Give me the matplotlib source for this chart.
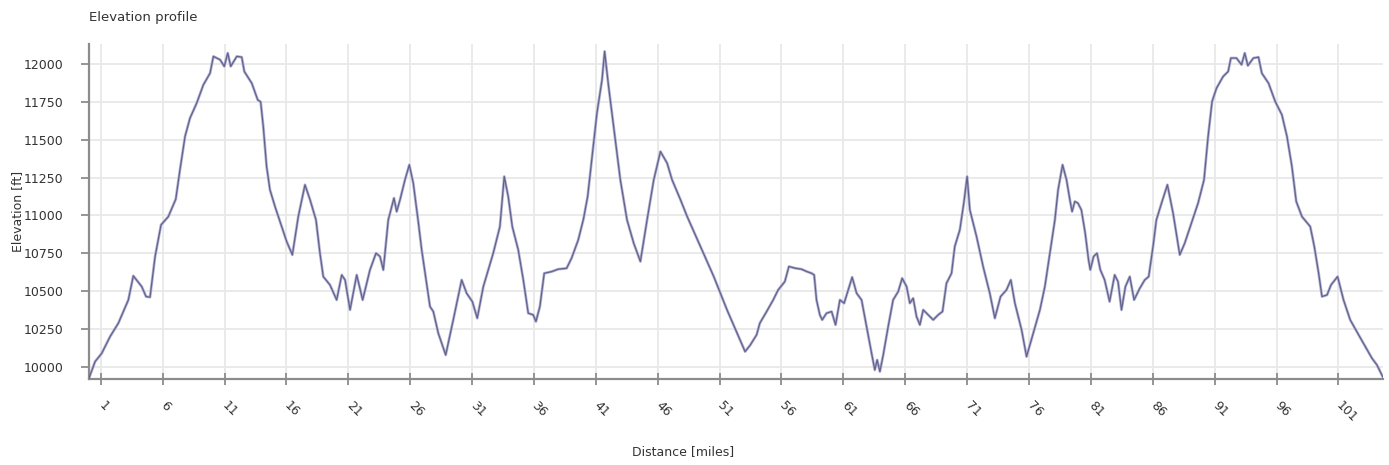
import matplotlib
matplotlib.use("Agg")
import matplotlib.pyplot as plt

# ---- data ----
distance_miles = [
    0.05, 0.54, 1.08, 1.75, 2.42, 3.23, 3.63, 4.31, 4.66, 4.98, 5.39, 5.87, 6.46, 7.06, 7.4,
    7.81, 8.21, 8.75, 9.29, 9.83, 10.1, 10.64, 10.98, 11.26, 11.5, 11.99, 12.39, 12.6, 13.2,
    13.68, 13.92, 14.13, 14.4, 14.67, 15.08, 15.62, 16.02, 16.48, 16.96, 17.5, 17.91, 18.39,
    18.71, 18.98, 19.52, 20.06, 20.47, 20.74, 21.14, 21.68, 22.16, 22.75, 23.24, 23.56, 23.83,
    24.23, 24.69, 24.91, 25.18, 25.58, 25.93, 26.25, 26.65, 26.93, 27.6, 27.87, 28.27, 28.87,
    29.48, 30.16, 30.56, 31.02, 31.42, 31.91, 32.71, 33.25, 33.6, 33.92, 34.25, 34.73, 35.14,
    35.54, 35.94, 36.16, 36.48, 36.83, 37.43, 37.96, 38.64, 39.04, 39.58, 40.0, 40.34, 40.55,
    41.09, 41.5, 41.71, 42.03, 42.44, 42.98, 43.52, 44.06, 44.6, 45.14, 45.68, 46.22, 46.76,
    47.16, 47.84, 48.38, 49.45, 50.53, 51.6, 52.41, 53.06, 53.48, 53.99, 54.25, 54.8, 55.33,
    55.73, 56.27, 56.6, 57.08, 57.62, 58.03, 58.43, 58.64, 58.83, 59.1, 59.29, 59.64, 60.05,
    60.37, 60.72, 61.06, 61.39, 61.71, 62.07, 62.47, 62.87, 63.28, 63.54, 63.73, 63.95, 64.22,
    64.62, 65.02, 65.43, 65.75, 66.11, 66.37, 66.64, 66.91, 67.18, 67.45, 67.85, 68.26, 68.66,
    69.01, 69.33, 69.74, 70.0, 70.41, 70.73, 71.0, 71.22, 71.76, 72.29, 72.83, 73.24, 73.7,
    74.18, 74.53, 74.86, 75.4, 75.8, 76.34, 76.88, 77.28, 77.69, 78.09, 78.35, 78.71, 79.03,
    79.3, 79.48, 79.7, 79.95, 80.23, 80.54, 80.81, 80.95, 81.22, 81.49, 81.76, 82.11, 82.51,
    82.92, 83.19, 83.47, 83.79, 84.14, 84.49, 84.95, 85.35, 85.67, 86.02, 86.29, 86.75, 87.18,
    87.64, 88.18, 88.58, 89.12, 89.66, 90.14, 90.47, 90.79, 91.15, 91.68, 92.09, 92.31, 92.76,
    93.17, 93.43, 93.68, 94.13, 94.54, 94.81, 95.35, 95.89, 96.43, 96.84, 97.24, 97.59, 98.05,
    98.72, 99.05, 99.4, 99.67, 100.08, 100.4, 100.93, 101.41, 101.95, 102.63, 103.17, 103.71,
    104.11, 104.6,
]
elevation_ft = [
    9923, 10033, 10088, 10198, 10287, 10441, 10600, 10529, 10463, 10459, 10728, 10937, 10992,
    11107, 11301, 11522, 11643, 11742, 11863, 11940, 12051, 12029, 11985, 12073, 11985, 12051,
    12046, 11951, 11874, 11764, 11750, 11588, 11323, 11169, 11058, 10926, 10827, 10739, 10992,
    11202, 11103, 10970, 10750, 10595, 10540, 10441, 10606, 10573, 10375, 10606, 10441, 10639,
    10750, 10728, 10639, 10970, 11114, 11025, 11103, 11235, 11334, 11213, 10960, 10772, 10397,
    10364, 10221, 10077, 10309, 10573, 10485, 10430, 10320, 10529, 10750, 10926, 11257, 11125,
    10926, 10772, 10573, 10353, 10342, 10298, 10397, 10617, 10628, 10644, 10650, 10717, 10838,
    10975, 11125, 11279, 11676, 11896, 12084, 11852, 11588, 11235, 10970, 10816, 10695, 10970,
    11235, 11422, 11345, 11235, 11103, 10992, 10794, 10595, 10375, 10221, 10099, 10143, 10210,
    10287, 10364, 10441, 10507, 10562, 10662, 10651, 10644, 10629, 10617, 10606, 10441, 10342,
    10309, 10353, 10364, 10276, 10441, 10419, 10507, 10591, 10485, 10441, 10265, 10088, 9978,
    10044, 9967, 10077, 10265, 10441, 10496, 10584, 10529, 10419, 10452, 10331, 10276, 10375,
    10342, 10309, 10342, 10364, 10551, 10617, 10794, 10904, 11081, 11257, 11036, 10860, 10662,
    10485, 10320, 10463, 10507, 10573, 10419, 10243, 10066, 10221, 10375, 10529, 10750, 10970,
    11169, 11334, 11235, 11103, 11025, 11092, 11081, 11036, 10882, 10706, 10640, 10728, 10750,
    10640, 10573, 10430, 10606, 10562, 10375, 10529, 10595, 10441, 10518, 10573, 10595, 10794,
    10970, 11092, 11202, 11014, 10739, 10816, 10948, 11081, 11235, 11522, 11753, 11841, 11918,
    11951, 12040, 12040, 11996, 12073, 11990, 12040, 12046, 11940, 11874, 11753, 11665, 11522,
    11323, 11092, 10992, 10926, 10794, 10617, 10463, 10474, 10540, 10595, 10441, 10309, 10210,
    10133, 10055, 10011, 9929,
]
x_ticks = [1, 6, 11, 16, 21, 26, 31, 36, 41, 46, 51, 56, 61, 66, 71, 76, 81, 86, 91, 96, 101]
y_ticks = [10000, 10250, 10500, 10750, 11000, 11250, 11500, 11750, 12000]

title_text = "Elevation profile"
x_label = "Distance [miles]"
y_label = "Elevation [ft]"

# ---- figure ----
W, H = 1389, 465
fig = plt.figure(figsize=(W / 100, H / 100), dpi=100)
ax = fig.add_axes([89 / W, 1 - 379 / H, (1383 - 89) / W, (379 - 44) / H])

ax.plot(distance_miles, elevation_ft, color="#b4b4d4", linewidth=2.0, solid_joinstyle="round", zorder=2)
ax.plot(distance_miles, elevation_ft, color="#62628e", linewidth=0.9, solid_joinstyle="round", zorder=3)

ax.set_xlim(distance_miles[0], distance_miles[-1])
ax.set_ylim(9918, 12133)
ax.set_xticks(x_ticks)
ax.set_yticks(y_ticks)

ax.grid(True, color="#e8e8e8", linewidth=1.3, zorder=0)
ax.set_axisbelow(True)
for s in ["top", "right"]:
    ax.spines[s].set_visible(False)
for s in ["left", "bottom"]:
    ax.spines[s].set_color("#8c8c8c")
    ax.spines[s].set_linewidth(1.6)

ax.tick_params(axis="x", direction="inout", length=9, width=1.3, color="#8c8c8c",
               labelsize=9, labelcolor="#333333", pad=13)
ax.tick_params(axis="y", direction="out", length=6, width=1.3, color="#8c8c8c",
               labelsize=9, labelcolor="#333333", pad=12.5)
for lab in ax.get_xticklabels():
    lab.set_rotation(-45)
    lab.set_ha("left")
    lab.set_va("center")
    lab.set_rotation_mode("anchor")

ax.set_xlabel(x_label, fontsize=9, color="#333333", va="center")
ax.xaxis.set_label_coords((683 - 89) / (1383 - 89), (379 - 452) / (379 - 44))
ax.set_ylabel(y_label, fontsize=9, color="#333333", va="center")
ax.yaxis.set_label_coords((18 - 89) / (1383 - 89), 0.5)

fig.text(89 / W, 1 - 18 / H, title_text, fontsize=9.5, color="#333333", ha="left", va="center")

fig.savefig("out.png", dpi=100, facecolor="white")
